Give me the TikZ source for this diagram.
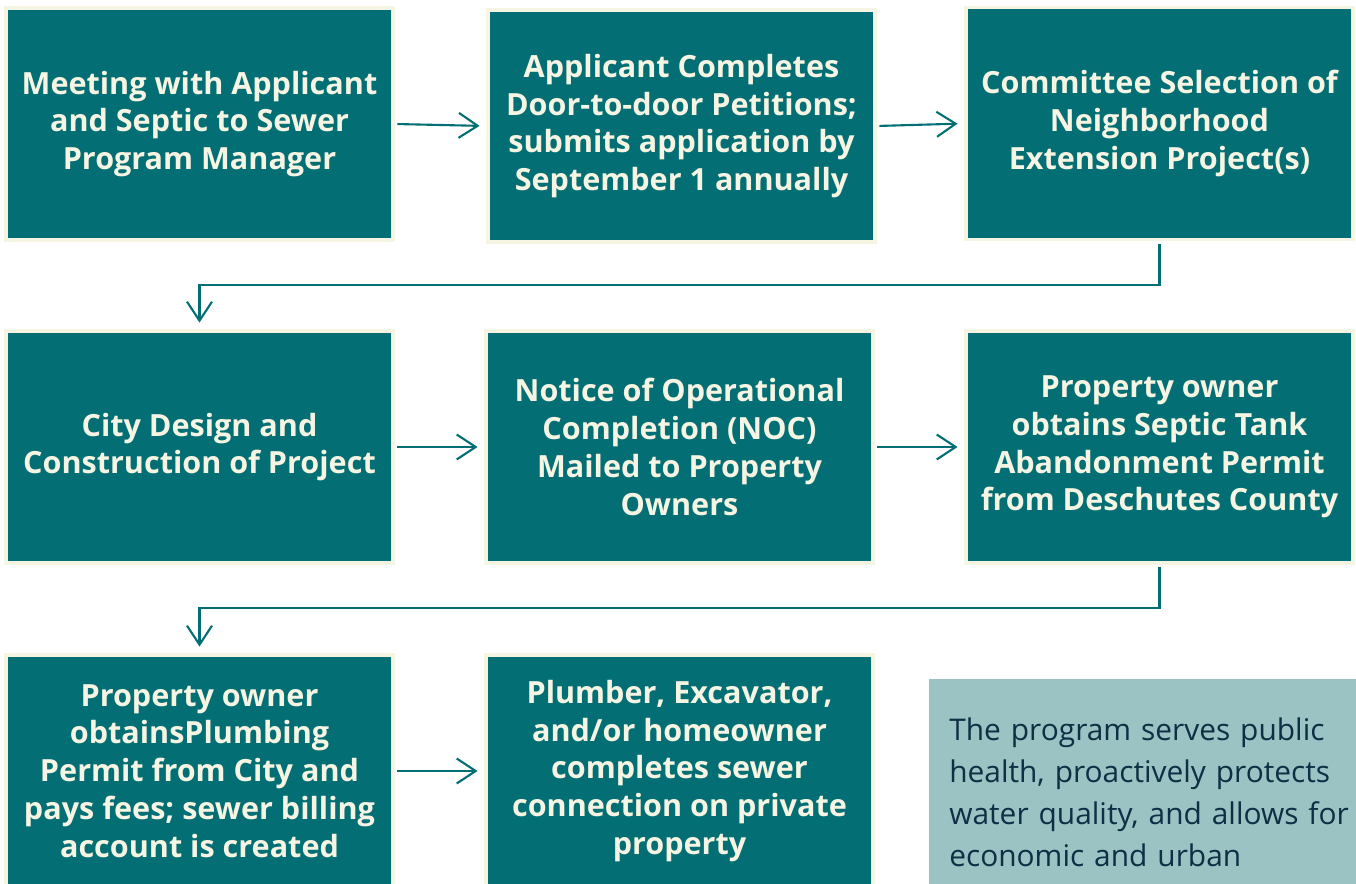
\documentclass[tikz,border=0pt]{standalone}
\usepackage{fontspec}
\setmainfont{Open Sans}
\usetikzlibrary{arrows.meta,positioning}
\definecolor{teal}{RGB}{3,111,116}
\definecolor{cream}{RGB}{246,244,226}
\definecolor{mist}{RGB}{155,195,196}
\definecolor{navy}{RGB}{14,47,68}
\tikzset{
  >={Straight Barb[length=3.8mm,width=5mm]},
  stepbox/.style={draw=cream,fill=teal,line width=2.2pt,text=cream,
    minimum width=7.74cm,minimum height=4.64cm,align=center,
    font=\fontsize{17.4}{21.5}\selectfont\bfseries},
  flow/.style={->,draw=teal,line width=1.2pt,shorten >=0.13cm,shorten <=0.05cm},
  note/.style={fill=mist,text=navy,anchor=north west,text width=8.3cm,
    inner xsep=0.4cm,inner ysep=0.76cm,align=left,
    font=\fontsize{17}{23.9}\selectfont},
}
\begin{document}
\begin{tikzpicture}[x=0.02cm,y=-0.02cm]
  \useasboundingbox (0,0) rectangle (1356,884);
  \clip (0,0) rectangle (1356,884);
  % first row
  \node[stepbox] (meet) at (199.5,124) {Meeting with Applicant\\and Septic to Sewer\\Program Manager};
  \node[stepbox] (apply) at (681.5,126) {Applicant Completes\\Door-to-door Petitions;\\submits application by\\September 1 annually};
  \node[stepbox] (select) at (1159.5,123.5) {Committee Selection of\\Neighborhood\\Extension Project(s)};
  % second row
  \node[stepbox] (design) at (199.5,447) {City Design and\\Construction of Project};
  \node[stepbox] (notice) at (679.5,447) {Notice of Operational\\Completion (NOC)\\Mailed to Property\\Owners};
  \node[stepbox] (septic) at (1159.5,447) {Property owner\\obtains Septic Tank\\Abandonment Permit\\from Deschutes County};
  % third row
  \node[stepbox] (permit) at (199.5,771) {Property owner\\obtainsPlumbing\\Permit from City and\\pays fees; sewer billing\\account is created};
  \node[stepbox] (connect) at (679.5,771) {Plumber, Excavator,\\and/or homeowner\\completes sewer\\connection on private\\property};
  \node[note] (about) at (929,679) {The program serves public\\health, proactively protects\\water quality, and allows for\\economic and urban};
  % connectors
  \draw[flow] (meet.east) -- (apply.west);
  \draw[flow] (apply.east) -- (select.west);
  \draw[flow] (select.south) -- ++(0,44) -| (design.north);
  \draw[flow] (design) -- (notice);
  \draw[flow] (notice) -- (septic);
  \draw[flow] (septic.south) -- ++(0,43) -| (permit.north);
  \draw[flow] (permit) -- (connect);
\end{tikzpicture}
\end{document}
